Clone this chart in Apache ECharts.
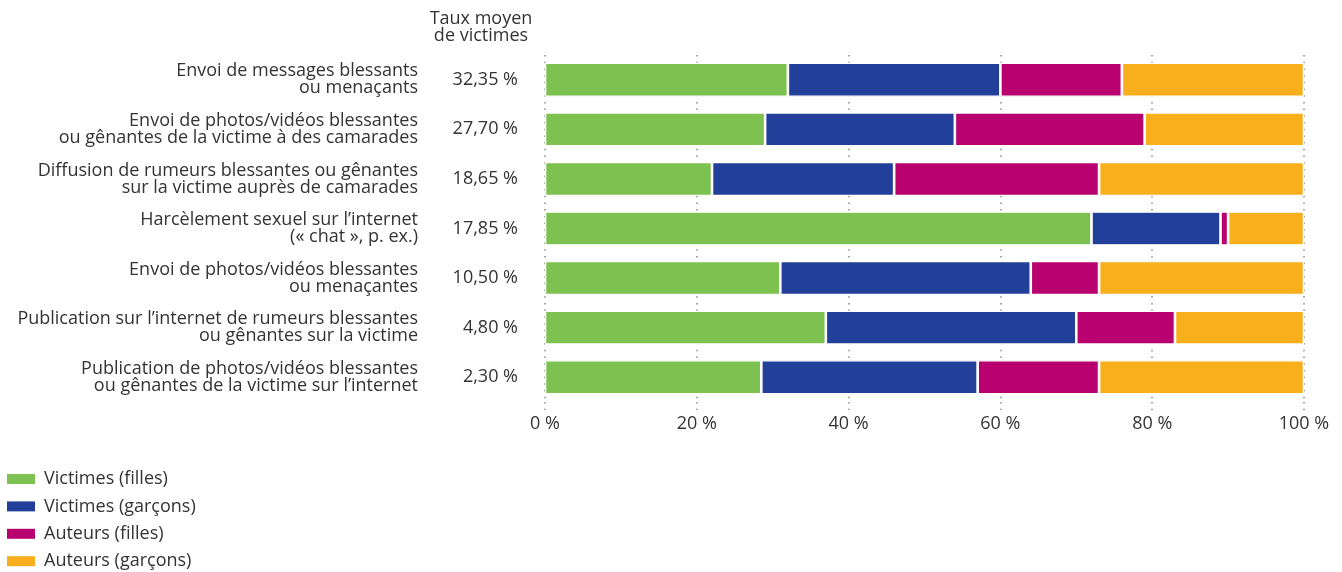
<!DOCTYPE html>
<html>
<head>
<meta charset="utf-8">
<script src="https://cdn.jsdelivr.net/npm/echarts@6/dist/echarts.min.js"></script>
<style>
  html, body { margin: 0; padding: 0; background: #fff; }
  #chart { width: 1342px; height: 572px; }
</style>
</head>
<body>
<div id="chart"></div>
<script>
// types de cyberharcèlement (de haut en bas)
var categories = [
  'Envoi de messages blessants\nou menaçants',
  'Envoi de photos/vidéos blessantes\nou gênantes de la victime à des camarades',
  'Diffusion de rumeurs blessantes ou gênantes\nsur la victime auprès de camarades',
  'Harcèlement sexuel sur l\u2019internet\n(« chat », p. ex.)',
  'Envoi de photos/vidéos blessantes\nou menaçantes',
  'Publication sur l\u2019internet de rumeurs blessantes\nou gênantes sur la victime',
  'Publication de photos/vidéos blessantes\nou gênantes de la victime sur l\u2019internet'
];
var tauxMoyen = ['32,35 %', '27,70 %', '18,65 %', '17,85 %', '10,50 %', '4,80 %', '2,30 %'];

// parts en %
var victimesFilles  = [32, 29, 22, 72, 31, 37, 28.5];
var victimesGarcons = [28, 25, 24, 17, 33, 33, 28.5];
var auteursFilles   = [16, 25, 27, 1, 9, 13, 16];
var auteursGarcons  = [24, 21, 27, 10, 27, 17, 27];

var xTicks = [0, 20, 40, 60, 80, 100];

var seriesNames = ['Victimes (filles)', 'Victimes (garçons)', 'Auteurs (filles)', 'Auteurs (garçons)'];
var seriesData  = [victimesFilles, victimesGarcons, auteursFilles, auteursGarcons];
var colors      = ['#7dc250', '#22409a', '#b8006e', '#f9ae1b'];

var font = 'Open Sans';
var textColor = '#333';
var fs = 18;

var myChart = echarts.init(document.getElementById('chart'));

var series = [];
for (var i = 0; i < seriesNames.length; i++) {
  series.push({
    name: seriesNames[i],
    type: 'bar',
    stack: 'total',
    barWidth: 34,
    itemStyle: {
      color: colors[i],
      borderColor: '#fff',
      borderWidth: 1.3
    },
    data: seriesData[i]
  });
}

var option = {
  animation: false,
  color: colors,
  textStyle: { fontFamily: font },
  title: {
    text: 'Taux moyen\nde victimes',
    left: 481,
    top: 10,
    padding: 0,
    textAlign: 'center',
    textStyle: {
      fontFamily: font,
      fontSize: fs,
      fontWeight: 'normal',
      color: textColor,
      lineHeight: 17
    }
  },
  legend: {
    orient: 'vertical',
    left: 7,
    top: 470,
    padding: 0,
    itemWidth: 28,
    itemHeight: 10,
    itemGap: 9.4,
    icon: 'rect',
    itemStyle: { borderWidth: 0 },
    textStyle: { fontFamily: font, fontSize: fs, color: textColor, lineHeight: 18, padding: [0, 0, 0, 4] },
    data: seriesNames
  },
  grid: {
    left: 545,
    right: 38,
    top: 55,
    bottom: 170,
    containLabel: false,
    outerBoundsMode: 'none'
  },
  xAxis: {
    type: 'value',
    min: xTicks[0],
    max: xTicks[xTicks.length - 1],
    interval: 20,
    axisLine: { show: false },
    axisTick: {
      show: true,
      length: 8,
      lineStyle: { color: '#888', type: [1.5, 5.2], width: 1.5 }
    },
    axisLabel: {
      formatter: '{value} %',
      fontFamily: font,
      fontSize: fs,
      color: textColor,
      margin: 13
    },
    splitLine: {
      show: true,
      lineStyle: { color: '#888', type: [1.5, 5.2], width: 1.5 }
    }
  },
  yAxis: [
    {
      type: 'category',
      inverse: true,
      data: categories,
      axisLine: { show: false },
      axisTick: { show: false },
      axisLabel: {
        fontFamily: font,
        fontSize: fs,
        color: textColor,
        lineHeight: 17,
        margin: 127,
        align: 'right'
      }
    },
    {
      type: 'category',
      inverse: true,
      position: 'left',
      data: tauxMoyen,
      axisLine: { show: false },
      axisTick: { show: false },
      axisLabel: {
        fontFamily: font,
        fontSize: fs,
        color: textColor,
        margin: 27,
        align: 'right'
      }
    }
  ],
  series: series
};

myChart.setOption(option);
window.addEventListener('resize', myChart.resize);
</script>
</body>
</html>
